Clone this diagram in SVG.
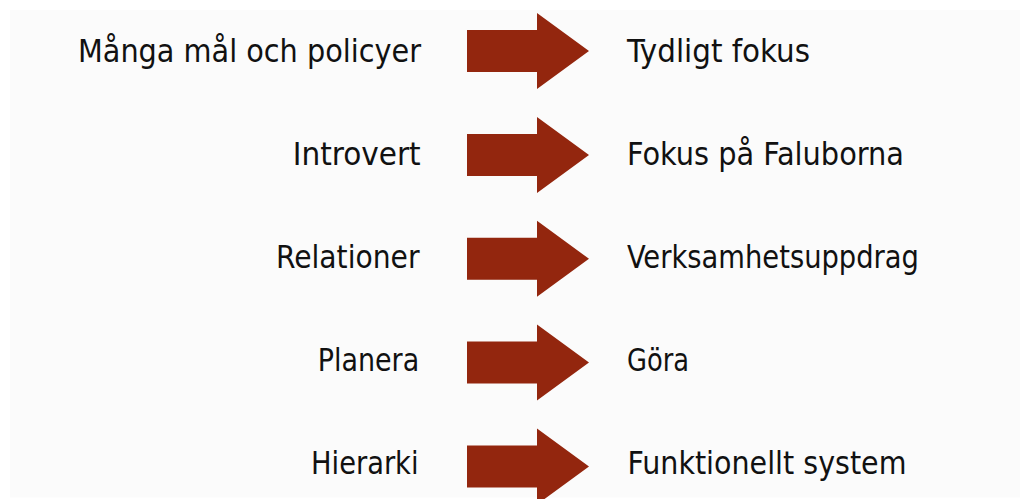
<svg xmlns="http://www.w3.org/2000/svg" width="1020" height="499" viewBox="0 0 1020 499">
<defs>
<style>
.t{font-family:"DejaVu Sans Condensed","DejaVu Sans",sans-serif;font-size:32px;fill:#111;}
.a{fill:#93260e;}
</style>
<path id="arrow" d="M467,-21 H537 V-38 L589,0 L537,38 V21 H467 Z"/>
</defs>
<rect x="0" y="0" width="1020" height="499" fill="#ffffff"/>
<rect x="10" y="10" width="1010" height="487.5" fill="#fbfbfb"/>
<g id="connectors">
<use href="#arrow" class="a" transform="translate(0,51)"/>
<use href="#arrow" class="a" transform="translate(0,154.9)"/>
<use href="#arrow" class="a" transform="translate(0,258.8)"/>
<use href="#arrow" class="a" transform="translate(0,362.6)"/>
<use href="#arrow" class="a" transform="translate(0,466.5)"/>
</g>
<g id="row1-from"><text class="t" x="78" y="61.8" textLength="343" lengthAdjust="spacingAndGlyphs">Många mål och policyer</text></g>
<g id="row1-to"><text class="t" x="627" y="61.8" textLength="183" lengthAdjust="spacingAndGlyphs">Tydligt fokus</text></g>
<g id="row2-from"><text class="t" x="292.7" y="164.6" textLength="128" lengthAdjust="spacingAndGlyphs">Introvert</text></g>
<g id="row2-to"><text class="t" x="627" y="164.6" textLength="277" lengthAdjust="spacingAndGlyphs">Fokus på Faluborna</text></g>
<g id="row3-from"><text class="t" x="276" y="267.6" textLength="143.5" lengthAdjust="spacingAndGlyphs">Relationer</text></g>
<g id="row3-to"><text class="t" x="627" y="267.6" textLength="292" lengthAdjust="spacingAndGlyphs">Verksamhetsuppdrag</text></g>
<g id="row4-from"><text class="t" x="317.7" y="370.8" textLength="101.5" lengthAdjust="spacingAndGlyphs">Planera</text></g>
<g id="row4-to"><text class="t" x="627" y="370.8" textLength="62" lengthAdjust="spacingAndGlyphs">Göra</text></g>
<g id="row5-from"><text class="t" x="311" y="474.3" textLength="107.5" lengthAdjust="spacingAndGlyphs">Hierarki</text></g>
<g id="row5-to"><text class="t" x="627.5" y="474.3" textLength="279" lengthAdjust="spacingAndGlyphs">Funktionellt system</text></g>
</svg>
